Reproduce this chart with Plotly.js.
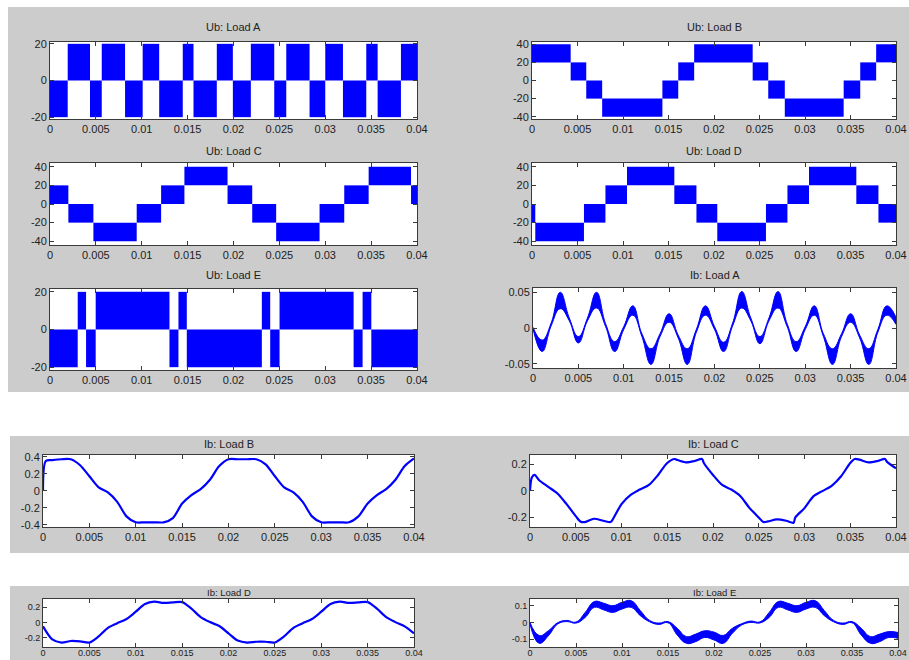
<!DOCTYPE html>
<html><head><meta charset="utf-8">
<script src="https://cdn.plot.ly/plotly-3.0.1.min.js"></script>
<style>html,body{margin:0;padding:0;background:#fff}#chart{width:909px;height:660px}</style>
</head><body><div id="chart"></div>
<script>
// ---------- DATA ----------
const titles = ['Ub: Load A','Ub: Load B','Ub: Load C','Ub: Load D','Ub: Load E',
                'Ib: Load A','Ib: Load B','Ib: Load C','Ib: Load D','Ib: Load E'];

const xTickVals = [0,0.005,0.01,0.015,0.02,0.025,0.03,0.035,0.04];
const xTickText = ['0','0.005','0.01','0.015','0.02','0.025','0.03','0.035','0.04'];

const yTick20 = [-20,0,20], yTick20Text = ['-20','0','20'];
const yTick40 = [-40,-20,0,20,40], yTick40Text = ['-40','-20','0','20','40'];
const yTickIbA = [-0.05,0,0.05], yTickIbAText = ['-0.05','0','0.05'];
const yTickIbB = [-0.4,-0.2,0,0.2,0.4], yTickIbBText = ['-0.4','-0.2','0','0.2','0.4'];
const yTickIbCD = [-0.2,0,0.2], yTickIbCDText = ['-0.2','0','0.2'];
const yTickIbE = [-0.1,0,0.1], yTickIbEText = ['-0.1','0','0.1'];

// Ub: switching blocks (segment edges in s, lower and upper level in V)
const UbA_edges = [0,0.00193,0.00436,0.00564,0.00818,0.0101,0.0119,0.01447,0.01564,0.01818,0.01993,0.02189,0.02444,0.02575,0.02829,0.03,0.03193,0.03447,0.03571,0.03825,0.04];
const UbA_low  = [-20,0,-20,0,-20,0,-20,0,-20,0,-20,0,-20,0,-20,0,-20,0,-20,0];
const UbA_high = [0,20,0,20,0,20,0,20,0,20,0,20,0,20,0,20,0,20,0,20];

const UbB_edges = [0,0.00425,0.00596,0.00771,0.01433,0.01607,0.01782,0.02425,0.02596,0.02778,0.03425,0.03607,0.03782,0.04];
const UbB_low  = [20,0,-20,-40,-20,0,20,0,-20,-40,-20,0,20];
const UbB_high = [40,20,0,-20,0,20,40,20,0,-20,0,20,40];

const UbC_edges = [0,0.002,0.00473,0.00945,0.01211,0.01465,0.01935,0.02204,0.02465,0.02938,0.03207,0.03473,0.03935,0.04];
const UbC_low  = [0,-20,-40,-20,0,20,0,-20,-40,-20,0,20,0];
const UbC_high = [20,0,-20,0,20,40,20,0,-20,0,20,40,20];

const UbD_edges = [0,0.00036,0.00571,0.00807,0.01044,0.01564,0.01807,0.02036,0.02571,0.02807,0.03044,0.03564,0.03807,0.04];
const UbD_low  = [-20,-40,-20,0,20,0,-20,-40,-20,0,20,0,-20];
const UbD_high = [0,-20,0,20,40,20,0,-20,0,20,40,20,0];

const UbE_edges = [0,0.00302,0.00393,0.00498,0.01302,0.014,0.01491,0.02309,0.024,0.02502,0.03309,0.03407,0.03502,0.04];
const UbE_low  = [-20,0,-20,0,-20,0,-20,0,-20,0,-20,0,-20];
const UbE_high = [0,20,0,20,0,20,0,20,0,20,0,20,0];

// Ib: currents
const tGrid = [0,0.001,0.002,0.003,0.004,0.005,0.006,0.007,0.008,0.009,0.010,0.011,0.012,0.013,0.014,0.015,0.016,0.017,0.018,0.019,0.020,
               0.021,0.022,0.023,0.024,0.025,0.026,0.027,0.028,0.029,0.030,0.031,0.032,0.033,0.034,0.035,0.036,0.037,0.038,0.039,0.040];

const IbA_upper = [0.001,-0.017,0.007,0.05,0.014,-0.012,0.014,0.05,0.006,-0.019,0.002,0.031,-0.008,-0.029,-0.008,0.02,-0.01,-0.029,-0.002,0.031,0.002,
                   -0.02,0.007,0.051,0.014,-0.012,0.014,0.051,0.006,-0.019,0.002,0.031,-0.008,-0.029,-0.008,0.02,-0.01,-0.029,-0.002,0.031,0.015];
const IbA_lower = [-0.001,-0.033,0.003,0.027,0.01,-0.021,0.01,0.028,0.002,-0.033,-0.002,0.018,-0.012,-0.051,-0.012,0.008,-0.014,-0.051,-0.006,0.018,-0.002,
                   -0.033,0.003,0.028,0.01,-0.022,0.01,0.028,0.002,-0.033,-0.002,0.018,-0.012,-0.051,-0.012,0.008,-0.014,-0.051,-0.006,0.018,0.005];

const IbB_t = [0,0.0003,0.001,0.002,0.003,0.004,0.005,0.006,0.007,0.008,0.009,0.010,0.011,0.012,0.013,0.014,0.015,0.016,0.017,0.018,0.019,0.020,
               0.021,0.022,0.023,0.024,0.025,0.026,0.027,0.028,0.029,0.030,0.031,0.032,0.033,0.034,0.035,0.036,0.037,0.038,0.039,0.040];
const IbB_y = [0,0.35,0.36,0.37,0.37,0.30,0.17,0.04,-0.02,-0.13,-0.30,-0.37,-0.37,-0.37,-0.37,-0.32,-0.15,-0.05,0.02,0.13,0.29,0.37,
               0.37,0.37,0.37,0.31,0.17,0.04,-0.02,-0.13,-0.30,-0.37,-0.37,-0.37,-0.37,-0.30,-0.15,-0.05,0.02,0.13,0.29,0.38];

const IbC_t = [0,0.0002,0.0005,0.001,0.002,0.003,0.004,0.005,0.0055,0.006,0.007,0.008,0.0088,0.009,0.010,0.011,0.012,0.013,0.014,0.015,0.0158,0.016,0.017,0.018,0.0188,0.019,
               0.020,0.021,0.022,0.023,0.024,0.025,0.0255,0.026,0.027,0.028,0.0288,0.029,0.030,0.031,0.032,0.033,0.034,0.035,0.0355,0.036,0.037,0.038,0.0388,0.039,0.040];
const IbC_y = [0,0.10,0.12,0.08,0.03,-0.02,-0.10,-0.19,-0.23,-0.235,-0.21,-0.225,-0.235,-0.22,-0.10,-0.03,0.01,0.045,0.12,0.21,0.24,0.235,0.215,0.225,0.24,0.21,
               0.12,0.045,0.01,-0.04,-0.13,-0.20,-0.235,-0.23,-0.215,-0.225,-0.24,-0.20,-0.13,-0.04,0.0,0.04,0.11,0.21,0.24,0.235,0.215,0.225,0.24,0.22,0.17];

const IbD_y = [-0.05,-0.22,-0.26,-0.24,-0.245,-0.26,-0.18,-0.07,-0.01,0.045,0.14,0.24,0.27,0.255,0.26,0.265,0.18,0.07,0.005,-0.045,-0.14,
               -0.235,-0.26,-0.25,-0.25,-0.26,-0.18,-0.07,-0.01,0.045,0.14,0.24,0.27,0.255,0.26,0.265,0.18,0.07,0.005,-0.05,-0.14];

const IbE_upper = [0.0,-0.078,-0.05,-0.002,0.012,0.002,0.06,0.125,0.115,0.10,0.12,0.13,0.07,0.012,-0.004,0.005,-0.035,-0.085,-0.07,-0.05,-0.058,
                   -0.078,-0.035,-0.008,0.008,0.003,0.06,0.125,0.115,0.10,0.12,0.13,0.07,0.012,-0.004,0.005,-0.035,-0.085,-0.07,-0.055,-0.06];
const IbE_lower = [-0.01,-0.125,-0.08,-0.01,0.005,-0.004,0.03,0.09,0.075,0.06,0.08,0.09,0.04,0.004,-0.012,-0.002,-0.075,-0.125,-0.115,-0.09,-0.105,
                   -0.125,-0.065,-0.016,0.0,-0.003,0.03,0.09,0.075,0.06,0.08,0.09,0.04,0.004,-0.012,-0.002,-0.075,-0.125,-0.115,-0.09,-0.095];

// ---------- LAYOUT HELPERS ----------
const W = 909, H = 660;
const BLUE = '#0000ff';
const px = v => v / W;
const py = v => 1 - v / H;

// plot frames in pixels: [left, right, top, bottom, titleCenterY]
const frames = [
  [50,417,42,119,27],[532,896,42,119,27],
  [50,417,163,245,151],[532,896,163,245,151],
  [50,417,289,370,275],[533,896,288,368,275],
  [43,414,455,527,444],[530,896,455,527,444],
  [43,414,599,647,592],[530,898,599,647,592]
];
const yRanges = [[-21,21],[-42.5,42.5],[-44,44],[-44,44],[-21.5,21.5],[-0.056,0.056],[-0.425,0.42],[-0.272,0.27],[-0.318,0.305],[-0.147,0.14]];
const yTicks = [[yTick20,yTick20Text],[yTick40,yTick40Text],[yTick40,yTick40Text],[yTick40,yTick40Text],[yTick20,yTick20Text],
                [yTickIbA,yTickIbAText],[yTickIbB,yTickIbBText],[yTickIbCD,yTickIbCDText],[yTickIbCD,yTickIbCDText],[yTickIbE,yTickIbEText]];
const FONT = 'Liberation Sans, Arial, Helvetica, sans-serif';

function blocks(edges, lo, hi, n){
  const x=[], w=[], base=[], y=[];
  for (let i=0;i<lo.length;i++){
    x.push((edges[i]+edges[i+1])/2);
    w.push(edges[i+1]-edges[i]);
    base.push(lo[i]);
    y.push(hi[i]-lo[i]);
  }
  return {type:'bar', x, y, base, width:w, marker:{color:BLUE, line:{width:0}},
          xaxis:'x'+n, yaxis:'y'+n, hoverinfo:'skip'};
}
function band(t, lo, hi, n){
  return [
    {type:'scatter', mode:'lines', x:t, y:lo, line:{color:BLUE, width:1, shape:'spline', smoothing:1.3}, xaxis:'x'+n, yaxis:'y'+n, hoverinfo:'skip'},
    {type:'scatter', mode:'lines', x:t, y:hi, line:{color:BLUE, width:1, shape:'spline', smoothing:1.3}, fill:'tonexty', fillcolor:BLUE, xaxis:'x'+n, yaxis:'y'+n, hoverinfo:'skip'}
  ];
}
function curve(t, y, n){
  return {type:'scatter', mode:'lines', x:t, y:y, line:{color:BLUE, width:2.2, shape:'spline', smoothing:0.8}, xaxis:'x'+n, yaxis:'y'+n, hoverinfo:'skip'};
}

const data = [
  blocks(UbA_edges, UbA_low, UbA_high, 1),
  blocks(UbB_edges, UbB_low, UbB_high, 2),
  blocks(UbC_edges, UbC_low, UbC_high, 3),
  blocks(UbD_edges, UbD_low, UbD_high, 4),
  blocks(UbE_edges, UbE_low, UbE_high, 5),
  ...band(tGrid, IbA_lower, IbA_upper, 6),
  curve(IbB_t, IbB_y, 7),
  curve(IbC_t, IbC_y, 8),
  curve(tGrid, IbD_y, 9),
  ...band(tGrid, IbE_lower, IbE_upper, 10)
];

const layout = {
  width: W, height: H, margin:{l:0,r:0,t:0,b:0,pad:0},
  paper_bgcolor:'#cccccc', plot_bgcolor:'#ffffff',
  showlegend:false, barmode:'overlay',
  font:{family:FONT, color:'#222', size:11},
  annotations:[], shapes:[]
};

// white gaps around the grey figure panels
const whiteRects = [[0,909,0,7],[0,8,0,392],[0,909,392,436],[0,10,436,553],[0,909,553,586],[0,10,586,660]];
whiteRects.forEach(r => layout.shapes.push({type:'rect', xref:'paper', yref:'paper', x0:px(r[0]), x1:px(r[1]), y0:py(r[3]), y1:py(r[2]),
  fillcolor:'#ffffff', line:{width:0}, layer:'below'}));

frames.forEach((f,i) => {
  const n = i+1, small = i >= 8;
  const fs = small ? 9 : 11;
  const common = {showgrid:false, zeroline:false, showline:true, linecolor:'#3a3a3a', linewidth:1, mirror:'ticks',
    ticks:'inside', ticklen:4, tickcolor:'#3a3a3a', tickwidth:1, tickfont:{family:FONT, size:fs, color:'#222'}, fixedrange:true,
    ticklabeloverflow:'allow'};
  layout['xaxis'+n] = Object.assign({}, common, {domain:[px(f[0]), px(f[1])], range:[0,0.04], anchor:'y'+n,
    tickmode:'array', tickvals:xTickVals, ticktext:xTickText, ticklabelstandoff: small ? -3 : 0});
  layout['yaxis'+n] = Object.assign({}, common, {domain:[py(f[3]), py(f[2])], range:yRanges[i], anchor:'x'+n,
    tickmode:'array', tickvals:yTicks[i][0], ticktext:yTicks[i][1]});
  layout.annotations.push({xref:'paper', yref:'paper', x:px((f[0]+f[1])/2), y:py(f[4]), xanchor:'center', yanchor:'middle',
    text:titles[i], showarrow:false, font:{family:FONT, size: small ? 9.5 : 11, color:'#222'}});
});

Plotly.newPlot('chart', data, layout, {staticPlot:true, displayModeBar:false});
</script>
</body></html>
